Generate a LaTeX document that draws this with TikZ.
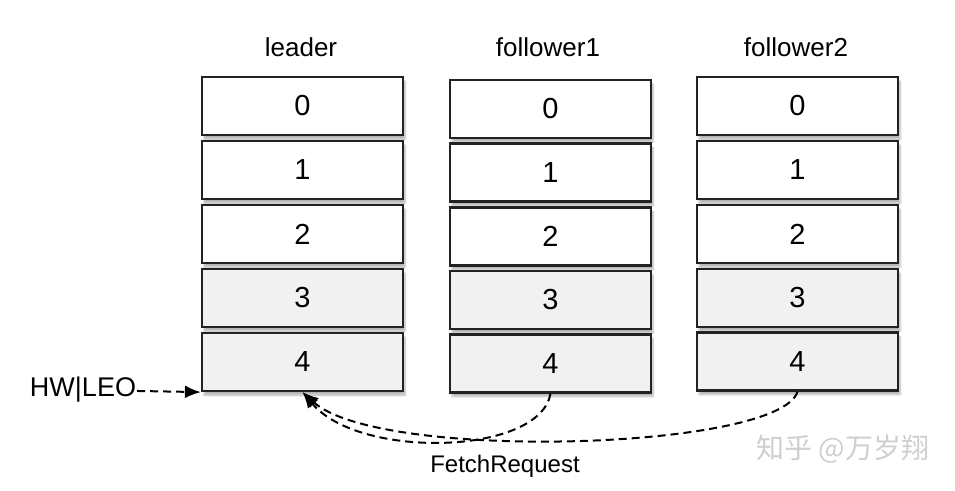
\documentclass[tikz,border=0pt]{standalone}
\usepackage{fontspec}
\setmainfont{Liberation Sans}
\newfontfamily\cjk{Noto Sans CJK SC}
\usepackage{tikz}
\usetikzlibrary{arrows.meta}
\usetikzlibrary{shadows.blur}
\definecolor{oldgray}{HTML}{F1F1F1}
\definecolor{edgegray}{HTML}{222222}

\begin{document}
\begin{tikzpicture}[x=1pt,y=-1pt,
    cell/.style={rectangle,draw=edgegray,line width=2.2pt,fill=white,minimum width=201pt,minimum height=58pt,
      font=\fontsize{29}{32}\selectfont,inner sep=0pt,
      blur shadow={shadow xshift=2pt,shadow yshift=-4pt,shadow blur steps=6,shadow opacity=30}},
    old cell/.style={cell,fill=oldgray},
    title/.style={font=\fontsize{26}{29}\selectfont},
    fetch/.style={-{Latex[length=16pt,width=13pt]},line width=2pt,dash pattern=on 8pt off 5pt}]
  \useasboundingbox (0,0) rectangle (955,490);

  % leader
  \node[title] (lt) at (301,47) {leader};
  \node[cell] (l0) at (302.5,106) {0};
  \node[cell] (l1) at (302.5,170) {1};
  \node[cell] (l2) at (302.5,234) {2};
  \node[old cell] (l3) at (302.5,298) {3};
  \node[old cell] (l4) at (302.5,362) {4};

  % follower1
  \node[title] (at) at (548,47) {follower1};
  \node[cell] (a0) at (550.5,109) {0};
  \node[cell] (a1) at (550.5,172.5) {1};
  \node[cell] (a2) at (550.5,236.5) {2};
  \node[old cell] (a3) at (550.5,300) {3};
  \node[old cell] (a4) at (550.5,363.5) {4};

  % follower2
  \node[title] (bt) at (796,47) {follower2};
  \node[cell] (b0) at (797.5,106) {0};
  \node[cell] (b1) at (797.5,170) {1};
  \node[cell] (b2) at (797.5,234) {2};
  \node[old cell] (b3) at (797.5,298) {3};
  \node[old cell] (b4) at (797.5,361.5) {4};

  \node[font=\fontsize{27}{30}\selectfont,inner sep=1pt] (hw) at (83,390) {HW|LEO};
  \draw[fetch] (hw) -- (l4.south west);

  \draw[fetch] (a4.south) .. controls (540,455) and (360,460) .. (l4.south);
  \draw[fetch] (b4.south) .. controls (780,450) and (380,462) .. (l4.south);
  \node[font=\fontsize{24}{27}\selectfont] (fr) at (505,466) {FetchRequest};

  \node[font=\cjk\fontsize{28}{31}\selectfont,text=gray!38] (wm) at (843,449) {知乎 @万岁翔};
\end{tikzpicture}
\end{document}
